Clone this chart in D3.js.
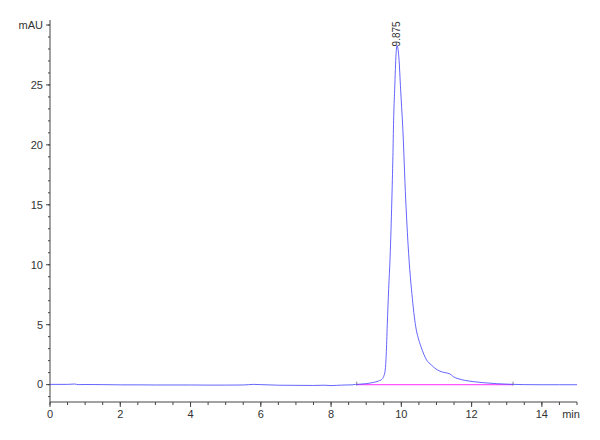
<!DOCTYPE html>
<html><head><meta charset="utf-8">
<script src="https://cdn.jsdelivr.net/npm/d3@7"></script>
<style>body{margin:0;background:#fff}</style>
</head><body>
<svg id="c" width="600" height="440"></svg>
<script>
const times = [0,0.5,0.7,0.8,1,1.5,2,2.5,3,3.5,4,4.5,5,5.5,5.8,6,6.5,7,7.5,7.8,8,8.3,8.6,8.7,
  8.8,9.0,9.2,9.35,9.45,9.5,9.54,9.57,9.6,9.64,9.68,9.73,9.76,9.78,9.81,9.85,9.875,9.93,9.98,10.04,10.125,10.22,10.30,10.41,10.48,10.56,10.72,10.85,10.96,11.1,11.24,11.38,11.48,11.61,11.8,12.05,12.3,12.7,13.0,13.2,13.5,14,14.5,15];
const values = [0.02,0.02,0.05,0.0,0.01,0.0,-0.02,-0.02,-0.03,-0.03,-0.03,-0.04,-0.04,-0.03,0.02,0.0,-0.05,-0.06,-0.07,-0.05,-0.08,-0.04,-0.02,0.02,
  0.03,0.08,0.18,0.3,0.45,0.7,1.2,2.5,5.0,8.0,10.6,15.4,19,22.0,24.6,27.6,28.3,27.3,24.6,21.5,15.4,10.4,7.6,4.83,3.9,3.16,2.05,1.65,1.36,1.12,1.0,0.9,0.66,0.5,0.36,0.25,0.17,0.08,0.04,0.02,0.0,-0.01,-0.01,-0.01];
const peakTime = [9.875];
const peakLabel = ["9.875"];
const peakApex = [28.3];
const baselineStartEnd = [8.73, 13.18];
const xMajor = [0,2,4,6,8,10,12,14];
const xMajorLabels = ["0","2","4","6","8","10","12","14"];
const yMajor = [0,5,10,15,20,25];
const yMajorLabels = ["0","5","10","15","20","25"];

const svg = d3.select("#c");
const x = d3.scaleLinear().domain([0,15]).range([50,577]);
const y = d3.scaleLinear().domain([-1.45,30]).range([402,25]);
const font = "'Liberation Sans Narrow','Arial Narrow','Liberation Sans',Arial,sans-serif";
const axisCol = "#444";

// X axis
const xMinor = d3.range(0,15.01,0.5);
const gx = svg.append("g").attr("transform",`translate(0,${y.range()[0]})`);
gx.append("line").attr("x1",x(0)).attr("x2",x(15)).attr("stroke",axisCol);
gx.selectAll(".mi").data(xMinor).join("line").attr("x1",d=>x(d)).attr("x2",d=>x(d)).attr("y1",0).attr("y2",3).attr("stroke",axisCol);
gx.selectAll(".ma").data(xMajor).join("line").attr("x1",d=>x(d)).attr("x2",d=>x(d)).attr("y1",0).attr("y2",5).attr("stroke",axisCol);
gx.selectAll(".lb").data(xMajor).join("text").attr("x",d=>x(d)).attr("y",16).attr("text-anchor","middle")
  .attr("font-family",font).attr("font-size",11).attr("fill","#333").text((d,i)=>xMajorLabels[i]);
gx.append("text").attr("x",x(15)-6).attr("y",16).attr("text-anchor","middle").attr("font-family",font).attr("font-size",11).attr("fill","#333").text("min");

// Y axis
const yMinor = d3.range(-1,30.01,1);
const gy = svg.append("g").attr("transform",`translate(${x.range()[0]},0)`);
gy.append("line").attr("y1",y(-1.45)).attr("y2",20).attr("stroke",axisCol);
gy.selectAll(".mi").data(yMinor).join("line").attr("y1",d=>y(d)).attr("y2",d=>y(d)).attr("x1",0).attr("x2",-2).attr("stroke",axisCol);
gy.selectAll(".ma").data(yMajor.concat([30])).join("line").attr("y1",d=>y(d)).attr("y2",d=>y(d)).attr("x1",0).attr("x2",-4).attr("stroke",axisCol);
gy.selectAll(".lb").data(yMajor).join("text").attr("x",-7).attr("y",d=>y(d)).attr("dy","0.35em").attr("text-anchor","end")
  .attr("font-family",font).attr("font-size",11).attr("fill","#333").text((d,i)=>yMajorLabels[i]);
gy.append("text").attr("x",-7).attr("y",y(30)).attr("dy","0.35em").attr("text-anchor","end").attr("font-family",font).attr("font-size",11).attr("fill","#333").text("mAU");

// Baseline (pink)
svg.append("line").attr("x1",x(baselineStartEnd[0])).attr("x2",x(baselineStartEnd[1])).attr("y1",y(0)).attr("y2",y(0))
  .attr("stroke","#ff55ff").attr("stroke-width",1.2);
svg.selectAll(".pk").data(baselineStartEnd).join("line").attr("x1",d=>x(d)).attr("x2",d=>x(d)).attr("y1",y(0)-3).attr("y2",y(0)+1).attr("stroke","#888");

// Signal
const pts = times.map((t,i)=>[t,values[i]]);
svg.append("path").datum(pts).attr("fill","none").attr("stroke","#4a4aff").attr("stroke-width",1).attr("stroke-opacity",0.85)
  .attr("d",d3.line().x(d=>x(d[0])).y(d=>y(d[1])).curve(d3.curveMonotoneX));

// Peak label
svg.selectAll(".pl").data(peakTime).join("text")
  .attr("transform",(d,i)=>`translate(${x(d)+3},${y(peakApex[i])+1}) rotate(-90)`)
  .attr("text-anchor","start").attr("font-family",font).attr("font-size",10).attr("fill","#333").text((d,i)=>peakLabel[i]);
</script>
</body></html>
